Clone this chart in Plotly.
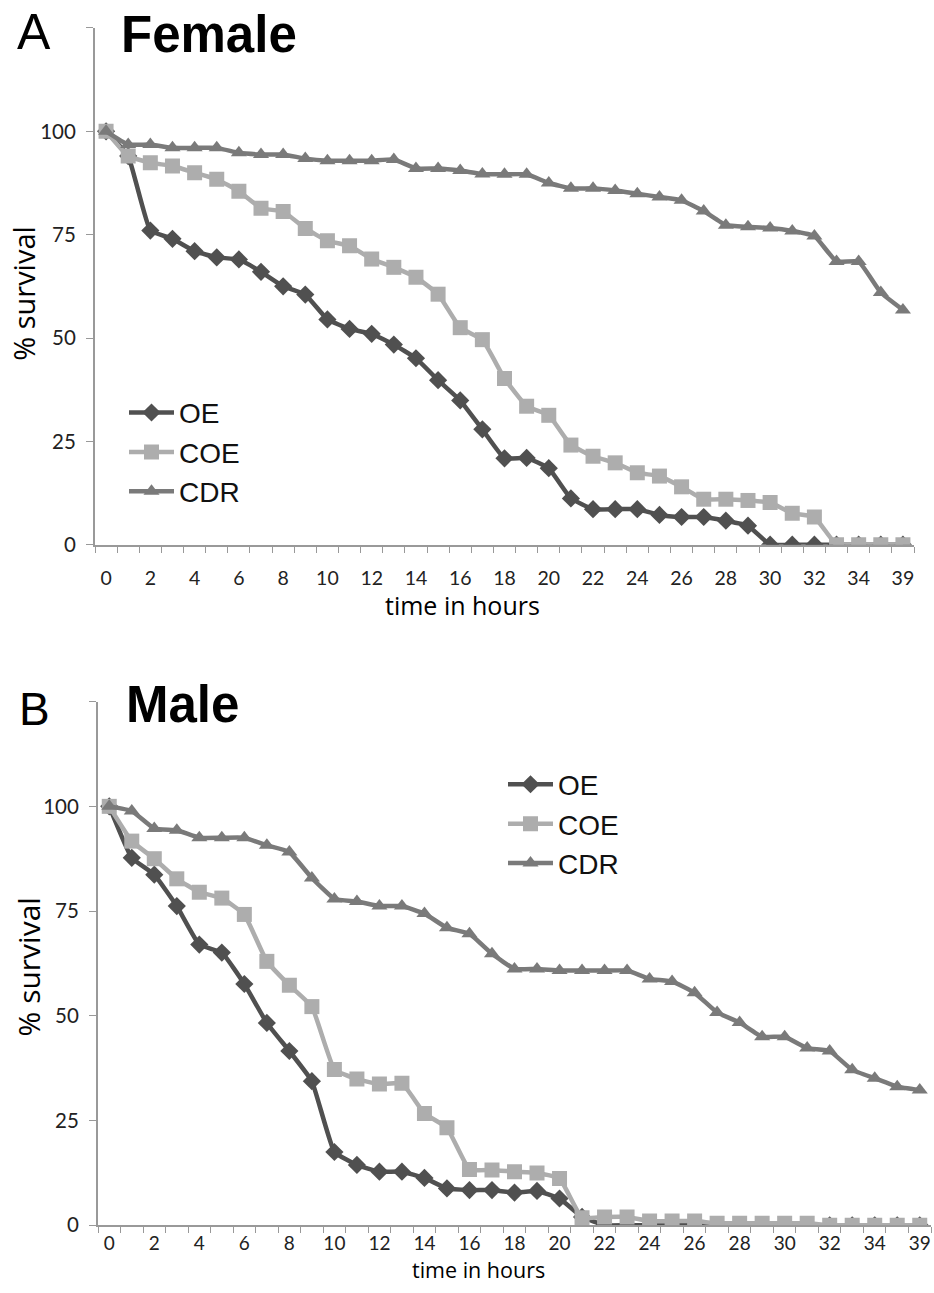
import plotly.graph_objects as go

hours = [str(h) for h in range(0, 36)] + ["39"]
tick_text = [h if i % 2 == 0 else "" for i, h in enumerate(hours)]

female_oe = [100, 94, 76, 74, 71, 69.5, 69, 66, 62.5, 60.5, 54.5, 52.2, 51, 48.4, 45.1, 39.8,
             34.9, 27.9, 20.9, 21, 18.5, 11.2, 8.6, 8.6, 8.6, 7.2, 6.7, 6.7, 5.8, 4.6, 0, 0, 0,
             0, 0, 0, 0]
female_coe = [100, 94, 92.4, 91.6, 90, 88.4, 85.5, 81.4, 80.6, 76.5, 73.5, 72.3, 69.1, 67.1, 64.7,
              60.6, 52.5, 49.6, 40.2, 33.5, 31.3, 24.1, 21.4, 19.8, 17.4, 16.6, 14, 11, 11, 10.7,
              10.2, 7.6, 6.7, 0, 0, 0, 0]
female_cdr = [100, 96.8, 96.8, 96, 96, 96, 94.8, 94.4, 94.4, 93.4, 92.9, 92.9, 92.9, 93.2, 91, 91,
              90.5, 89.7, 89.6, 89.6, 87.5, 86.2, 86.2, 85.7, 84.9, 84.1, 83.3, 80.7, 77.3, 76.9,
              76.6, 75.9, 74.7, 68.5, 68.5, 61, 56.8]

male_oe = [100, 87.7, 83.7, 76.2, 67, 65.1, 57.6, 48.3, 41.6, 34.4, 17.5, 14.4, 12.8, 12.8, 11.3,
           8.8, 8.4, 8.4, 7.8, 8.2, 6.4, 2, 0, 0, 0, 0, 0, 0, 0, 0, 0, 0, 0, 0, 0, 0, 0]
male_coe = [100, 91.7, 87.5, 82.7, 79.5, 78.1, 74.2, 63, 57.3, 52.2, 37.2, 34.9, 33.7, 33.9, 26.7,
            23.3, 13.3, 13.2, 12.8, 12.5, 11.2, 1.8, 2, 2, 1, 1, 1, 0.5, 0.5, 0.5, 0.5, 0.5, 0,
            0, 0, 0, 0]
male_cdr = [100, 98.9, 94.7, 94.3, 92.5, 92.5, 92.5, 90.7, 89.1, 82.9, 77.9, 77.3, 76.2, 76.2, 74.4,
            71, 69.6, 64.8, 61.2, 61.2, 60.8, 60.8, 60.8, 60.8, 58.8, 58.2, 55.5, 50.8, 48.4, 45,
            45, 42.3, 41.6, 37.1, 35.1, 33.1, 32.3]

series_names = ["OE", "COE", "CDR"]
colors = {"OE": "#505050", "COE": "#adadad", "CDR": "#7a7a7a"}
symbols = {"OE": "diamond", "COE": "square", "CDR": "triangle-up"}
msizes = {"OE": 14, "COE": 15, "CDR": 14}

W, H = 934, 1285
SY = 0.992  # observed vertical scale of the captured page


def px(x):
    return x / W


def py(y):
    return 1 - (y / SY) / H


fig = go.Figure()

panels = [
    ("x", "y", "legend", [female_oe, female_coe, female_cdr]),
    ("x2", "y2", "legend2", [male_oe, male_coe, male_cdr]),
]
for xa, ya, lg, data in panels:
    for name, vals in zip(series_names, data):
        fig.add_trace(go.Scatter(
            x=hours, y=vals, name=name, xaxis=xa, yaxis=ya, legend=lg,
            legendgroup=name + lg, mode="lines+markers",
            line=dict(color=colors[name], width=4.5, shape="spline", smoothing=0.35),
            marker=dict(symbol=symbols[name], size=msizes[name], color=colors[name]),
        ))

common_x = dict(type="category", categoryorder="array", categoryarray=hours,
                range=[-0.5, len(hours) - 0.5], tickmode="array", tickvals=hours,
                ticktext=tick_text, tickson="boundaries", ticks="outside", ticklen=6,
                tickangle=0, tickcolor="#999", linecolor="#999", linewidth=2, showline=True,
                showgrid=False, zeroline=False, fixedrange=True)
common_y = dict(range=[0, 125], tickmode="array", tickvals=[0, 25, 50, 75, 100, 125],
                ticktext=["0", "25", "50", "75", "100", ""], ticks="outside", ticklen=7,
                tickcolor="#999", linecolor="#999", linewidth=2, showline=True,
                showgrid=False, zeroline=False, fixedrange=True, ticklabelstandoff=6,
                tickfont=dict(family="Lato, Liberation Sans, sans-serif", size=20.5, color="#222"))

legend_font = dict(family="Liberation Sans, Arial, sans-serif", size=28, color="#111")
fig.update_layout(
    width=W, height=H, margin=dict(l=0, r=0, t=0, b=0),
    paper_bgcolor="white", plot_bgcolor="white",
    xaxis=dict(domain=[px(95), px(914)], anchor="y", ticklabelstandoff=15,
               tickfont=dict(family="Lato, Liberation Sans, sans-serif", size=19.5, color="#222"),
               **common_x),
    yaxis=dict(domain=[py(545), py(28)], anchor="x", **common_y),
    xaxis2=dict(domain=[px(98), px(931)], anchor="y2", ticklabelstandoff=0,
                tickfont=dict(family="Lato, Liberation Sans, sans-serif", size=19, color="#222"),
                **common_x),
    yaxis2=dict(domain=[py(1226), py(702)], anchor="x2", **common_y),
    legend=dict(x=px(124), y=py(388), xanchor="left", yanchor="top", font=legend_font,
                bgcolor="rgba(0,0,0,0)", tracegroupgap=0, itemwidth=45),
    legend2=dict(x=px(503), y=py(760), xanchor="left", yanchor="top", font=legend_font,
                 bgcolor="rgba(0,0,0,0)", tracegroupgap=0, itemwidth=45),
    showlegend=True,
)

ann = []


def text(x, y, s, size, bold=False, family="Liberation Sans, Arial, sans-serif", angle=0):
    ann.append(dict(x=px(x), y=py(y), xref="paper", yref="paper",
                    text=(f"<b>{s}</b>" if bold else s),
                    showarrow=False, xanchor="center", yanchor="middle", textangle=angle,
                    font=dict(family=family, size=size, color="#000")))


text(34, 32, "A", 50)
text(209, 35, "Female", 51, bold=True)
text(34, 709, "B", 46)
text(182, 705, "Male", 51, bold=True)
text(462, 605, "time in hours", 25, family="Open Sans, Lato, sans-serif")
text(478, 1270, "time in hours", 21.5, family="Open Sans, Lato, sans-serif")
text(24, 294, "% survival", 29, family="Open Sans, Lato, sans-serif", angle=-90)
text(28, 968, "% survival", 30, family="Open Sans, Lato, sans-serif", angle=-90)
fig.update_layout(annotations=ann)

fig.write_html("out.html")
